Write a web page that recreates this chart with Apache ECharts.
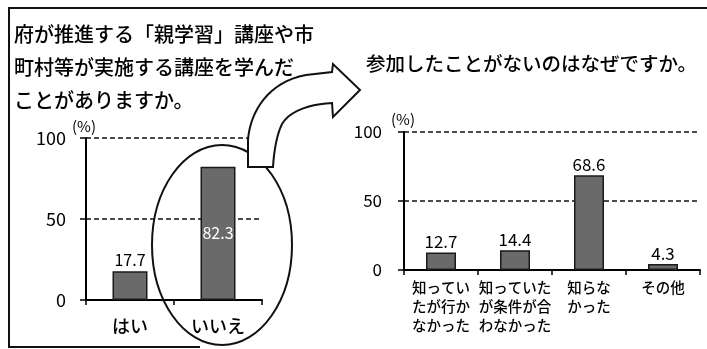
<!DOCTYPE html>
<html><head><meta charset="utf-8">
<script src="https://cdn.jsdelivr.net/npm/echarts@6/dist/echarts.min.js"></script>
<style>html,body{margin:0;padding:0;background:#fff}#c{width:707px;height:349px}</style>
</head><body><div id="c"></div>
<script>
const leftTitle = ['府が推進する「親学習」講座や市', '町村等が実施する講座を学んだ', 'ことがありますか。'];
const rightTitle = '参加したことがないのはなぜですか。';
const leftCategories = ['はい', 'いいえ'];
const leftValues = [17.7, 82.3];
const rightCategories = ['知ってい\nたが行か\nなかった', '知っていた\nが条件が合\nわなかった', '知らな\nかった', 'その他'];
const rightValues = [12.7, 14.4, 68.6, 4.3];
const yTicks = [0, 50, 100];

const FONT = '"Noto Sans CJK JP", "Noto Sans", sans-serif';
const chart = echarts.init(document.getElementById('c'));

function yAxisCfg(gridIndex, fs, margin) {
  return {
    gridIndex, type: 'value', min: yTicks[0], max: yTicks[yTicks.length - 1], interval: yTicks[1] - yTicks[0],
    axisLine: { show: true, lineStyle: { color: '#000', width: 2 } },
    axisTick: { show: true, length: 6, lineStyle: { color: '#000', width: 1.5 } },
    axisLabel: { fontSize: fs, color: '#000', fontFamily: FONT, margin },
    splitLine: { show: true, lineStyle: { color: '#111', type: [5, 3], width: 1.5 } }
  };
}
function xAxisCfg(gridIndex, data, fs, lh, margin) {
  return {
    gridIndex, type: 'category', data,
    axisLine: { show: true, lineStyle: { color: '#000', width: 2 } },
    axisTick: { show: true, length: 5, lineStyle: { color: '#000', width: 1.5 } },
    axisLabel: { fontSize: fs, lineHeight: lh, color: '#000', fontFamily: FONT, fontWeight: 500, margin, interval: 0 }
  };
}
const barStyle = { color: '#6a6a6a', borderColor: '#1a1a1a', borderWidth: 1.5 };

// decorative arrow outline: cubic bezier sampling
function bez(p0, p1, p2, p3, n) {
  const out = [];
  for (let i = 0; i <= n; i++) {
    const t = i / n, u = 1 - t;
    out.push([u*u*u*p0[0] + 3*u*u*t*p1[0] + 3*u*t*t*p2[0] + t*t*t*p3[0],
              u*u*u*p0[1] + 3*u*u*t*p1[1] + 3*u*t*t*p2[1] + t*t*t*p3[1]]);
  }
  return out;
}
const arrowPts = [[248, 167]]
  .concat(bez([248, 140], [250, 112], [268, 82], [306, 75], 16))
  .concat([[332, 72], [333, 64], [360, 90], [333, 117], [332, 103]])
  .concat(bez([332, 103], [312, 104], [290, 110], [282, 124], 10))
  .concat(bez([282, 124], [277, 134], [274, 150], [273, 167], 8));

const graphics = [];
graphics.push({ type: 'polyline', shape: { points: [[200, 347], [9, 347], [9, 8], [707, 8]] }, style: { stroke: '#111', lineWidth: 2, fill: null }, z: 5 });
leftTitle.forEach((t, i) => graphics.push({
  type: 'text', x: 14, y: 24 + i * 33,
  style: { text: t, font: '500 20px ' + FONT, fill: '#000' }, z: 5
}));
graphics.push({ type: 'text', x: 366, y: 54, style: { text: rightTitle, font: '500 19.5px ' + FONT, fill: '#000' }, z: 5 });
graphics.push({ type: 'text', x: 72, y: 119, style: { text: '(%)', font: '15px ' + FONT, fill: '#000' }, z: 5 });
graphics.push({ type: 'text', x: 391, y: 112, style: { text: '(%)', font: '15px ' + FONT, fill: '#000' }, z: 5 });
graphics.push({ type: 'ellipse', shape: { cx: 222, cy: 245, rx: 70, ry: 100 }, style: { stroke: '#111', lineWidth: 2, fill: null }, z: 10 });
graphics.push({ type: 'polygon', z: 20, shape: { points: arrowPts }, style: { fill: '#fff', stroke: '#111', lineWidth: 2 } });

chart.setOption({
  animation: false,
  backgroundColor: '#fff',
  grid: [
    { left: 86, top: 138, width: 176, height: 162 },
    { left: 404, top: 132, width: 296, height: 138 }
  ],
  xAxis: [xAxisCfg(0, leftCategories, 18, 20, 16), xAxisCfg(1, rightCategories, 14.5, 19, 8)],
  yAxis: [yAxisCfg(0, 18, 20), yAxisCfg(1, 17, 22)],
  series: [
    { type: 'bar', xAxisIndex: 0, yAxisIndex: 0, barWidth: 35,
      data: leftValues.map((v, i) => ({ value: v, label: i === 1 ? { position: 'inside', color: '#fff' } : {} })),
      itemStyle: barStyle,
      label: { show: true, position: 'top', distance: 3, fontSize: 16, color: '#000', fontFamily: FONT } },
    { type: 'bar', xAxisIndex: 1, yAxisIndex: 1, barWidth: 30, data: rightValues, itemStyle: barStyle,
      label: { show: true, position: 'top', distance: 2, fontSize: 17, color: '#000', fontFamily: FONT } }
  ],
  graphic: graphics
});
</script></body></html>
